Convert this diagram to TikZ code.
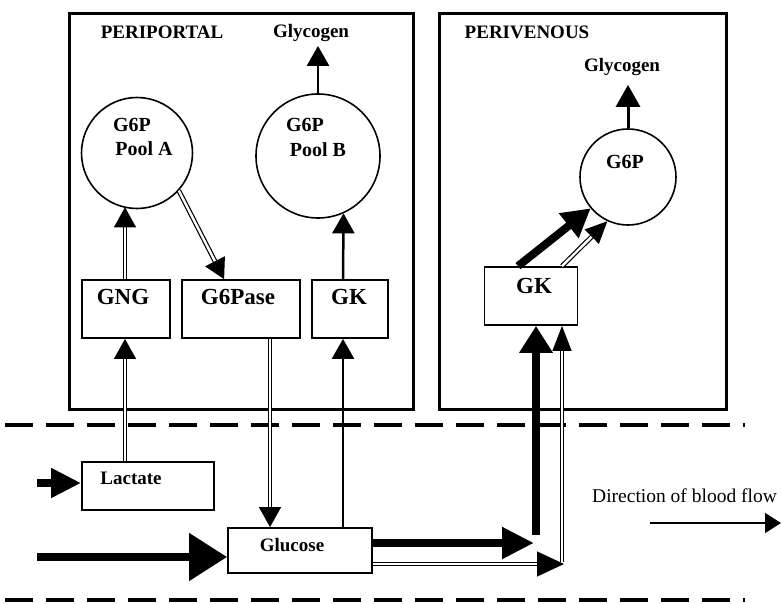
\documentclass[tikz,border=0pt]{standalone}
\usepackage{fontspec}
\setmainfont{Liberation Serif}
\usetikzlibrary{arrows.meta,calc}
\begin{document}
\begin{tikzpicture}[x=1pt,y=-1pt,
  zone/.style={draw, line width=2.6, anchor=north west, inner sep=0},
  enz/.style={draw, line width=1.8, inner sep=0},
  pool/.style={draw, circle, line width=1.6, inner sep=0},
  ttl/.style={font=\bfseries\fontsize{19}{21}\selectfont, inner sep=0},
  ptxt/.style={font=\bfseries\fontsize{20}{22}\selectfont, inner sep=0},
  etxt/.style={font=\bfseries\fontsize{23}{25}\selectfont, inner sep=0},
  btxt/.style={font=\bfseries\fontsize{19}{21}\selectfont, inner sep=0},
  dbl/.style={double, line width=1.2, double distance=2.4},
  sgl/.style={line width=2.5},
  fat/.style={line width=8},
  bigtip/.style={-{Triangle[length=30pt,width=30pt]}},
  midtip/.style={-{Triangle[length=22pt,width=24pt]}},
  smltip/.style={-{Triangle[length=20pt,width=22pt]}},
  flowdash/.style={line width=3.2, dash pattern=on 28pt off 13pt}
]
\useasboundingbox (0,0) rectangle (781,604);

% zones
\node[zone, minimum width=344, minimum height=396] (pp) at (68,12) {};
\node[zone, minimum width=287, minimum height=396] (pv) at (438,12) {};
\node[ttl] (ppT) at (162,32) {PERIPORTAL};
\node[ttl] (glyA) at (311,33) {Glycogen};
\node[ttl] (pvT) at (527,32) {PERIVENOUS};
\node[ttl] (glyB) at (622,67) {Glycogen};

% pools
\node[pool, minimum size=111] (A) at (137,153) {};
\node[ptxt] (At1) at (132,125) {G6P};
\node[ptxt] (At2) at (144,149) {Pool A};
\node[pool, minimum size=124] (B) at (318,156) {};
\node[ptxt] (Bt1) at (305,125) {G6P};
\node[ptxt] (Bt2) at (318,150) {Pool B};
\node[pool, minimum size=96] (C) at (628,177) {};
\node[ptxt] (Ct) at (625,162) {G6P};

% enzyme boxes
\node[enz, minimum width=88, minimum height=58] (GNG) at (126,309) {};
\node[etxt] (GNGt) at (123,297) {GNG};
\node[enz, minimum width=118, minimum height=58] (G6Pase) at (241,309) {};
\node[etxt] (G6Paset) at (238,297) {G6Pase};
\node[enz, minimum width=76, minimum height=58] (GK) at (350,309) {};
\node[etxt] (GKt) at (349,297) {GK};
\node[enz, minimum width=93, minimum height=58] (GKv) at (531,296) {};
\node[etxt] (GKvt) at (534,286) {GK};

% blood compartment
\node[enz, minimum width=132, minimum height=48] (Lac) at (148,486) {};
\node[btxt] (Lact) at (131,478) {Lactate};
\node[enz, minimum width=144, minimum height=45] (Glc) at (300,550.5) {};
\node[btxt] (Glct) at (292,545) {Glucose};
\node[font=\fontsize{19.5}{21}\selectfont, inner sep=0, anchor=west] (dir) at (592,496) {Direction of blood flow};

% dashed sinusoid borders
\coordinate (d1a) at (5,425);
\coordinate (d1b) at (745,425);
\coordinate (d2a) at (5,600);
\coordinate (d2b) at (745,600);
\draw[flowdash] (d1a) -- (d1b);
\draw[flowdash] (d2a) -- (d2b);

% periportal arrows
\draw[dbl, smltip] ($(Lac.north)+(-23,0)$) -- ($(GNG.south)+(-1,0)$);
\draw[dbl, smltip] ($(GNG.north)+(-1,0)$) -- ($(A.south)+(-12,-2)$);
\draw[dbl, smltip] (A.-42) -- ($(G6Pase.north west)+(43,0)$);
\draw[dbl, smltip] ($(G6Pase.south)+(29,0)$) -- ($(Glc.north)+(-30,0)$);
\draw[sgl, smltip] ($(Glc.north)+(43,0)$) -- ($(GK.south)+(-7,0)$);
\draw[sgl, smltip] ($(GK.north)+(-7,0)$) -- (B.-66);
\draw[sgl, smltip] (B.north) -- ($(B.north |- glyA.south)+(0,4)$);

% inflow arrows
\coordinate (lacin) at (37,483);
\coordinate (glcin) at (37,557);
\draw[fat, -{Triangle[length=30pt,width=28pt]}] (lacin) -- (Lac.west |- lacin);
\draw[fat, -{Triangle[length=38pt,width=46pt]}] (glcin) -- (Glc.west |- glcin);

% outflow arrows
\coordinate (o1) at (534,543);
\coordinate (o2) at (564,564);
\draw[fat, -{Triangle[length=32pt,width=30pt]}] (Glc.east |- o1) -- (o1);
\draw[dbl, -{Triangle[length=27pt,width=25pt]}] (Glc.east |- o2) -- (o2);
\coordinate (v1) at (536,535);
\coordinate (v2) at (562,562);
\draw[fat, -{Triangle[length=27pt,width=32pt]}] (v1) -- (v1 |- GKv.south);
\draw[dbl, -{Triangle[length=25pt,width=19pt]}] (v2) -- (v2 |- GKv.south);

% perivenous arrows
\draw[fat, -{Triangle[length=28pt,width=30pt]}] ($(GKv.north)+(-13,0)$) -- (C.-140);
\draw[dbl, -{Triangle[length=22pt,width=20pt]}] ($(GKv.north)+(31,0)$) -- (C.-115);
\draw[line width=3, midtip] (C.north) -- ($(C.north |- glyB.south)+(0,9)$);

% direction of flow
\coordinate (f1) at (650,523);
\coordinate (f2) at (781,523);
\draw[line width=1.5, -{Triangle[length=16pt,width=20pt]}] (f1) -- (f2);
\end{tikzpicture}
\end{document}
